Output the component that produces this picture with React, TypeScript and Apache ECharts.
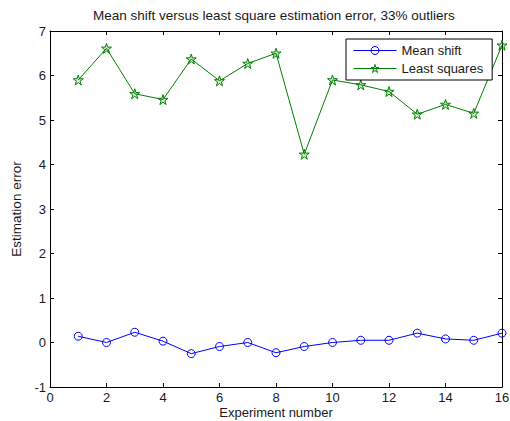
import React, { useEffect, useRef } from "react";
import * as echarts from "echarts";

const experiments = [1, 2, 3, 4, 5, 6, 7, 8, 9, 10, 11, 12, 13, 14, 15, 16];
const meanShift = [0.14, 0.0, 0.23, 0.03, -0.25, -0.09, 0.0, -0.23, -0.09, 0.0, 0.05, 0.05, 0.21, 0.08, 0.05, 0.21];
const leastSquares = [5.9, 6.61, 5.59, 5.46, 6.37, 5.88, 6.27, 6.5, 4.23, 5.9, 5.79, 5.64, 5.13, 5.35, 5.15, 6.68];

const titleText = "Mean shift versus least square estimation error, 33% outliers";
const xName = "Experiment number";
const yName = "Estimation error";
const seriesNames = ["Mean shift", "Least squares"];

const STAR = "path://M50,0 L61.2,34.5 L97.6,34.5 L68.2,55.9 L79.4,90.5 L50,69.1 L20.6,90.5 L31.8,55.9 L2.4,34.5 L38.8,34.5 Z";

const BLUE = "#0000ff";
const GREEN = "#008000";

export default function App() {
  const ref = useRef<HTMLDivElement>(null);
  useEffect(() => {
    if (!ref.current) return;
    const chart = echarts.init(ref.current, undefined, { renderer: "svg" });
    const font = "Liberation Sans, Arial, sans-serif";
    const textColor = "#1a1a1a";
    const axisCommon = {
      axisLine: { show: true, onZero: false, lineStyle: { color: "#000", width: 1 } },
      axisTick: { show: true, inside: true, length: 4, lineStyle: { color: "#000" } },
      splitLine: { show: false },
    };
    const circleStyle = { color: "rgba(255,255,255,0)", borderColor: BLUE, borderWidth: 1 };
    const starStyle = { color: "rgba(0,128,0,0.15)", borderColor: GREEN, borderWidth: 1 };
    chart.setOption({
      animation: false,
      backgroundColor: "#fff",
      textStyle: { fontFamily: font },
      title: {
        text: titleText,
        left: 93,
        top: 8,
        padding: 0,
        textStyle: { fontSize: 13.5, fontWeight: "normal", color: textColor, fontFamily: font },
      },
      grid: { left: 50, right: 8, top: 31, bottom: 34, containLabel: false, outerBoundsMode: "none" },
      legend: {
        data: [
          { name: seriesNames[0], itemStyle: circleStyle, lineStyle: { color: BLUE, width: 1 } },
          { name: seriesNames[1], itemStyle: starStyle, lineStyle: { color: GREEN, width: 1 } },
        ],
        orient: "vertical",
        left: 346,
        top: 39,
        padding: [5, 9, 5, 7],
        itemGap: 5,
        itemWidth: 43,
        itemHeight: 10,
        backgroundColor: "#fff",
        borderColor: "#000",
        borderWidth: 1,
        borderRadius: 0,
        textStyle: { fontSize: 13, color: textColor, fontFamily: font },
      },
      xAxis: [
        {
          type: "value",
          min: 0,
          max: 16,
          interval: 2,
          position: "bottom",
          name: xName,
          nameLocation: "middle",
          nameGap: 19,
          nameMoveOverlap: false,
          nameTextStyle: { fontSize: 13, color: textColor, fontFamily: font },
          axisLabel: { fontSize: 13, color: textColor, margin: 4, fontFamily: font },
          ...axisCommon,
        },
        {
          type: "value",
          min: 0,
          max: 16,
          interval: 2,
          position: "top",
          axisLabel: { show: false },
          ...axisCommon,
        },
      ],
      yAxis: [
        {
          type: "value",
          min: -1,
          max: 7,
          interval: 1,
          position: "left",
          name: yName,
          nameLocation: "middle",
          nameGap: 26,
          nameTextStyle: { fontSize: 13.5, color: textColor, fontFamily: font },
          axisLabel: { fontSize: 13, color: textColor, margin: 4, fontFamily: font },
          ...axisCommon,
        },
        {
          type: "value",
          min: -1,
          max: 7,
          interval: 1,
          position: "right",
          axisLabel: { show: false },
          ...axisCommon,
        },
      ],
      series: [
        {
          name: seriesNames[0],
          type: "line",
          xAxisIndex: 0,
          yAxisIndex: 0,
          data: experiments.map((x, i) => [x, meanShift[i]]),
          symbol: "circle",
          symbolSize: 8,
          showAllSymbol: true,
          clip: false,
          lineStyle: { color: BLUE, width: 1 },
          itemStyle: circleStyle,
          emphasis: { disabled: true },
        },
        {
          name: seriesNames[1],
          type: "line",
          xAxisIndex: 0,
          yAxisIndex: 0,
          data: experiments.map((x, i) => [x, leastSquares[i]]),
          symbol: STAR,
          symbolSize: 10,
          showAllSymbol: true,
          clip: false,
          lineStyle: { color: GREEN, width: 1 },
          itemStyle: starStyle,
          emphasis: { disabled: true },
        },
      ],
    });
    return () => chart.dispose();
  }, []);
  return <div ref={ref} style={{ width: 510, height: 421, position: "absolute", left: 0, top: 0 }} />;
}
